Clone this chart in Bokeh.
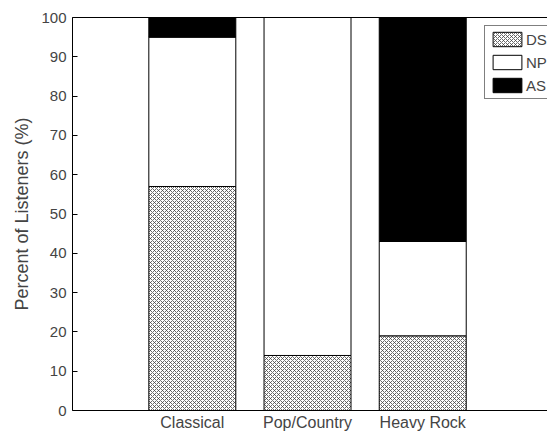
from bokeh.plotting import figure
from bokeh.models import (Legend, LegendItem, FixedTicker, LinearAxis, Range1d,
                          ColumnDataSource)
from bokeh.embed import file_html
from bokeh.resources import INLINE

# ---- data ----
genres = ["Classical", "Pop/Country", "Heavy Rock"]
ds_vals = [57, 14, 19]
np_vals = [38, 86, 24]
as_vals = [5, 0, 57]
series = ["DS", "NP", "AS"]
y_ticks = [0, 10, 20, 30, 40, 50, 60, 70, 80, 90, 100]
y_label = "Percent of Listeners (%)"

x_pos = [i + 1 for i in range(len(genres))]

FONT = "Liberation Sans"

source = ColumnDataSource(dict(x=x_pos, DS=ds_vals, NP=np_vals, AS=as_vals))

p = figure(width=547, height=433, output_backend="svg", toolbar_location=None,
           x_range=Range1d(-0.04, 4.083), y_range=Range1d(0, 100),
           min_border_left=72, min_border_right=0, min_border_top=17,
           min_border_bottom=22)
p.outline_line_color = None
p.xgrid.visible = False
p.ygrid.visible = False
p.background_fill_color = "white"
p.border_fill_color = "white"

rs = p.vbar_stack(series, x="x", width=0.755, source=source,
                  fill_color=["white", "white", "black"],
                  line_color="black", line_width=1,
                  hatch_pattern=["x", " ", " "],
                  hatch_scale=4, hatch_weight=0.8, hatch_color="#444444")

# y axis
ya = p.yaxis[0]
ya.ticker = FixedTicker(ticks=y_ticks)
ya.axis_label = y_label
ya.axis_label_text_font = FONT
ya.axis_label_text_font_size = "18px"
ya.axis_label_text_font_style = "normal"
ya.axis_label_standoff = 6
ya.major_label_text_font = FONT
ya.major_label_text_font_size = "15px"
ya.major_label_standoff = 6
ya.major_tick_in = 5
ya.major_tick_out = 0
ya.minor_tick_line_color = None
ya.axis_line_color = "black"
ya.major_tick_line_color = "black"

# x axis
xa = p.xaxis[0]
xa.ticker = FixedTicker(ticks=x_pos)
xa.major_label_overrides = {x: g for x, g in zip(x_pos, genres)}
xa.major_label_text_font = FONT
xa.major_label_text_font_size = "16px"
xa.major_label_standoff = 3
xa.major_tick_in = 0
xa.major_tick_out = 0
xa.minor_tick_line_color = None
xa.axis_line_color = "black"

# top box line
top = LinearAxis(ticker=FixedTicker(ticks=[]), major_label_text_font_size="0px",
                 major_tick_in=0, major_tick_out=0, minor_tick_line_color=None,
                 major_label_standoff=0, axis_line_color="black")
p.add_layout(top, "above")

legend = Legend(items=[LegendItem(label=s, renderers=[r]) for s, r in zip(series, rs)],
                location=(412, 311), orientation="vertical",
                border_line_color="black", border_line_width=1,
                background_fill_color="white", background_fill_alpha=1,
                padding=4, spacing=5, margin=0,
                glyph_width=36, glyph_height=18, label_height=18,
                label_standoff=1, label_text_font=FONT,
                label_text_font_size="15px")
p.add_layout(legend)

open("out.html", "w").write(file_html(p, INLINE))
